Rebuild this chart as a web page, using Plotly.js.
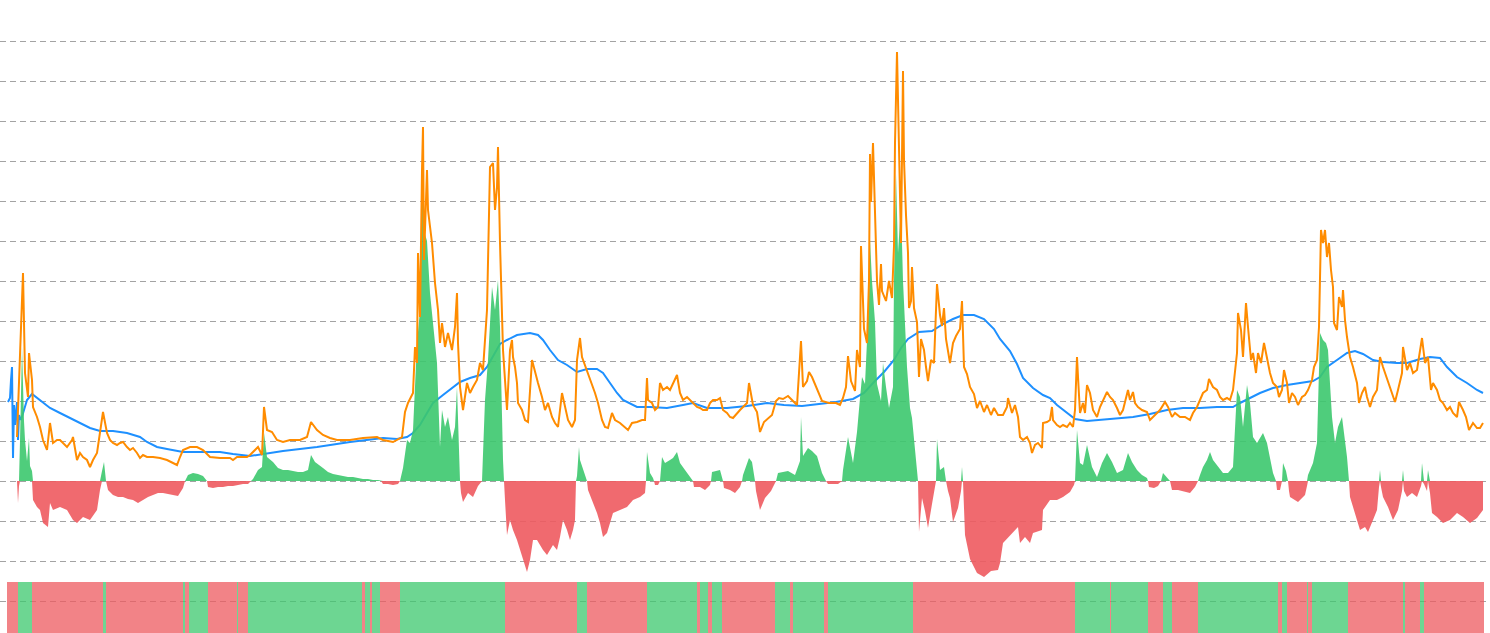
<!DOCTYPE html>
<html><head><meta charset="utf-8">
<script src="https://cdn.plot.ly/plotly-3.0.1.min.js"></script>
<style>html,body{margin:0;padding:0;background:#fff;overflow:hidden}#chart{width:1490px;height:633px}</style>
</head><body><div id="chart"></div>
<script>
// price (orange): [day, value]
const priceObs = [[9,44],[15,208],[17,108],[20,84],[21,128],[24,101],[25,74],[29,64],[32,54],[35,41],[39,31],[42,58],[45,38],[49,41],[52,41],[55,38],[59,34],[64,41],[65,44],[69,21],[72,28],[75,24],[79,21],[82,14],[85,21],[89,28],[92,48],[95,69],[99,48],[102,41],[105,38],[109,36],[112,38],[115,39],[119,34],[122,31],[125,33],[129,28],[132,23],[135,26],[139,24],[145,24],[152,23],[159,21],[165,18],[169,16],[172,24],[175,31],[182,34],[189,34],[195,31],[202,24],[212,23],[222,23],[225,21],[229,24],[239,24],
[242,26],[250,34],[254,26],[256,74],[259,51],[264,49],[269,41],[275,39],[282,41],[292,41],[299,44],[303,59],[309,51],[315,46],[322,43],[329,41],[342,41],[355,43],[369,44],[375,41],[385,39],[394,44],[397,69],[400,78],[405,88],[407,134],[409,118],[410,228],[412,164],[414,311],[415,354],[416,221],[419,311],[420,271],[424,238],[427,198],[430,171],[432,138],[434,158],[437,134],[440,148],[444,131],[447,154],[449,188],[450,138],[452,94],[455,71],[459,98],[462,88],[465,94],[469,101],[472,118],[475,111],[479,171],[480,221],[482,314],[485,318],[487,271],[489,294],[490,334],[492,238],
[494,164],[495,131],[499,71],[502,131],[504,141],[505,124],[507,114],[509,98],[510,78],[514,71],[517,61],[520,59],[524,121],[527,108],[530,98],[534,84],[537,71],[540,78],[544,64],[547,58],[550,54],[554,88],[557,74],[560,61],[564,54],[567,61],[569,121],[572,143],[574,124],[577,116],[580,108],[584,98],[587,88],[590,78],[594,61],[597,54],[600,53],[604,68],[607,61],[612,58],[617,54],[620,51],[624,58],[629,59],[634,61],[637,61],[639,103],[640,81],[644,78],[647,71],[650,74],[652,98],[655,91],[659,94],[662,91],[665,98],[669,106],[672,88],[675,81],[679,84],[682,81],[685,78],[689,74],[692,73],[695,71],[699,71],[702,78],[705,81],[709,81],[712,83],[715,71],[719,68],[722,64],[725,63],[729,68],[732,71],[735,74],[739,78],[741,98],
[745,76],[749,69],[752,49],[756,59],[761,63],[764,66],[768,80],[771,83],[775,82],[780,85],[785,80],[789,76],[793,140],[795,94],[799,100],[801,109],[804,104],[807,97],[811,87],[814,80],[821,78],[828,78],[832,76],[835,83],[838,94],[840,125],[843,100],[847,90],[849,131],[852,114],[853,235],[856,152],[859,138],[861,200],[862,327],[863,279],[865,338],[867,269],[869,200],[871,176],[873,217],[874,190],[878,180],[881,200],[884,183],[886,235],[887,338],[889,429],[891,338],[893,238],[895,410],[896,321],[898,266],[900,228],[901,173],[903,180],[904,214],[906,173],[909,159],[911,104],[913,142],[916,131],[918,114],[920,100],[923,121],[926,118],[929,197],[932,166],[934,155],[936,173],[938,142],[942,118],[945,138],[948,145],[952,152],[954,180],[956,114],[959,107],[962,94],[966,87],[969,73],[972,80],[976,69],[979,76],[983,66],[986,73],[990,66],[995,66],
[999,74],[1000,83],[1004,68],[1007,76],[1010,64],[1012,44],[1015,41],[1019,44],[1022,38],[1024,28],[1027,36],[1030,38],[1034,33],[1035,58],[1039,59],[1042,61],[1044,74],[1045,61],[1049,56],[1052,54],[1055,56],[1059,54],[1062,58],[1065,54],[1067,71],[1069,124],[1070,104],[1072,68],[1075,78],[1077,68],[1079,96],[1082,88],[1085,71],[1089,64],[1092,74],[1095,81],[1099,89],[1102,84],[1105,81],[1109,73],[1112,66],[1115,71],[1120,91],[1122,81],[1125,89],[1127,78],[1130,74],[1134,71],[1139,69],[1142,61],[1145,64],[1149,68],[1152,71],[1157,79],[1160,74],[1164,64],[1167,68],[1172,64],[1177,64],[1182,61],[1185,68],[1189,74],[1192,81],[1195,88],[1199,91],[1201,102],[1205,94],[1209,91],[1212,84],[1215,81],[1219,83],[1222,81],[1225,91],[1229,128],[1230,168],[1233,151],[1235,124],[1238,178],[1240,154],
[1243,121],[1245,128],[1248,108],[1250,128],[1253,118],[1256,138],[1259,124],[1262,108],[1265,98],[1269,94],[1271,84],[1274,91],[1276,111],[1279,98],[1281,78],[1284,88],[1287,84],[1290,76],[1294,84],[1297,86],[1300,91],[1304,101],[1306,114],[1309,121],[1311,154],[1313,251],[1315,238],[1317,251],[1319,224],[1321,238],[1323,211],[1325,194],[1326,158],[1329,151],[1331,184],[1334,174],[1335,191],[1337,161],[1339,144],[1342,124],[1345,114],[1349,98],[1351,78],[1354,88],[1357,94],[1359,84],[1362,74],[1365,84],[1369,91],[1372,124],[1375,114],[1377,108],[1380,98],[1384,88],[1387,79],[1390,91],[1394,108],[1395,134],[1399,111],[1402,118],[1405,108],[1409,111],[1414,143],[1417,118],[1420,124],[1423,91],[1425,98],[1429,91],[1432,81],[1435,78],[1439,71],[1442,74],[1445,68],[1449,64],[1451,79],[1455,71],[1458,64],[1461,51],[1465,58],[1469,53],[1472,53],[1475,58]];

// deviation from the moving average (green above / red below): [day, value]
const devObs = [[9,0],[10,-22],[11,-5],[12,40],[14,134],[16,60],[17,41],[19,20],[21,43],[22,15],[24,10],[25,-19],[29,-26],[32,-29],[35,-42],[40,-46],[42,-22],[45,-29],[52,-26],[59,-29],[65,-39],[69,-42],[75,-36],[82,-39],[89,-29],[92,-9],[94,10],[96,19],[98,0],[100,-9],[105,-14],[110,-16],[115,-16],[120,-18],[125,-19],[130,-22],[135,-19],[140,-16],[145,-14],[150,-12],[155,-12],[160,-13],[165,-14],[170,-15],[175,-7],[177,0],[180,6],[185,8],[190,7],[195,5],[199,0],[200,-6],[205,-7],[210,-6],[215,-6],[220,-5],[225,-5],[230,-4],[235,-3],[240,-3],[243,0],[245,2],[250,11],[254,14],[256,48],[259,24],[265,19],[270,13],[275,11],[280,11],[285,10],[290,9],[295,9],[300,11],[303,26],[307,19],[315,13],[320,9],[325,7],[330,6],[335,5],[340,4],[345,4],[350,3],[355,2],[360,2],[365,1],[370,1],[373,0],[375,-3],[380,-3],[385,-4],[390,-3],[392,0],
[395,13],[399,41],[402,38],[405,51],[409,138],[412,171],[414,300],[416,250],[419,240],[422,188],[425,158],[429,118],[432,34],[434,71],[437,54],[440,64],[444,41],[447,54],[449,94],[451,30],[452,0],[453,-12],[455,-21],[460,-12],[465,-16],[470,-5],[474,0],[477,81],[480,121],[484,194],[487,171],[490,201],[492,154],[495,21],[496,0],[497,-19],[499,-54],[502,-39],[505,-49],[509,-59],[512,-69],[517,-84],[519,-91],[522,-79],[525,-59],[529,-59],[532,-64],[535,-69],[539,-74],[542,-69],[545,-64],[549,-69],[552,-56],[555,-39],[559,-49],[562,-59],[565,-49],[567,-39],[568,0],[569,5],[571,34],[572,21],[577,6],[579,0],[580,-9],[585,-22],[589,-32],[592,-42],[595,-56],[599,-52],[602,-42],[605,-32],[612,-29],[619,-26],[625,-19],[632,-16],[637,-12],[638,0],[639,29],[642,8],[645,3],[646,0],[647,-4],[650,-4],[652,0],[654,24],[657,18],[662,21],[665,23],[669,29],[672,18],[677,11],[682,4],[685,0],[686,-6],[692,-6],[697,-9],[702,-4],[703,0],[704,9],[712,11],[715,0],[716,-7],[722,-9],[727,-12],[732,-6],[734,0],[735,6],[741,23],[744,19],[747,0],[748,-10],[752,-29],[757,-17],[763,-10],[767,-2],[768,0],
[770,8],[780,10],[787,6],[792,20],[793,64],[795,25],[800,33],[804,30],[809,25],[814,8],[818,0],[820,-3],[830,-3],[834,0],[835,11],[840,44],[845,18],[849,49],[852,83],[854,104],[857,97],[861,183],[862,241],[864,200],[867,159],[869,97],[873,80],[875,118],[878,94],[881,73],[885,94],[886,200],[888,307],[890,228],[893,276],[895,200],[899,114],[902,73],[904,63],[907,28],[909,6],[910,0],[911,-51],[914,-17],[917,-30],[920,-47],[924,-23],[927,-5],[928,0],[929,42],[932,11],[936,14],[938,0],[940,-10],[942,-17],[945,-41],[950,-27],[953,-10],[954,14],[955,0],[956,-30],[957,-54],[962,-78],[969,-92],[976,-96],[983,-90],[990,-89],[992,-82],[995,-62],[998,-59],[1005,-52],[1010,-46],[1012,-62],[1017,-56],[1022,-62],[1025,-52],[1034,-49],[1035,-29],[1042,-19],[1049,-19],[1055,-16],[1062,-11],[1066,-4],[1067,0],
[1069,51],[1072,18],[1075,16],[1079,36],[1084,14],[1089,4],[1094,18],[1099,28],[1104,19],[1109,8],[1115,11],[1120,28],[1124,19],[1129,11],[1134,6],[1139,3],[1140,0],[1141,-6],[1146,-7],[1150,-5],[1153,0],[1155,8],[1160,3],[1162,0],[1164,-9],[1170,-9],[1182,-12],[1187,-6],[1190,0],[1192,6],[1195,14],[1199,21],[1202,29],[1205,21],[1210,14],[1215,8],[1220,8],[1225,14],[1229,91],[1232,84],[1235,54],[1239,96],[1242,78],[1245,44],[1249,38],[1255,48],[1259,38],[1262,24],[1265,8],[1268,0],[1269,-9],[1272,-9],[1274,0],[1275,18],[1278,10],[1280,0],[1281,-10],[1282,-16],[1290,-21],[1297,-14],[1299,-5],[1300,6],[1305,18],[1309,38],[1312,148],[1315,141],[1318,138],[1320,131],[1324,64],[1327,38],[1330,54],[1334,64],[1337,38],[1339,24],[1341,0],[1342,-16],[1347,-32],[1352,-49],[1357,-46],[1360,-51],[1365,-39],[1369,-29],[1371,-6],[1372,11],[1373,-6],[1375,-16],[1380,-26],[1385,-39],[1390,-29],[1394,-10],[1395,11],[1396,-10],[1399,-16],[1404,-12],[1409,-16],[1413,-5],[1414,18],[1416,-3],[1419,-10],[1420,11],[1422,-12],[1424,-32],[1429,-36],[1435,-42],[1442,-39],[1449,-32],[1455,-36],[1462,-42],[1469,-37],[1475,-29]];

// moving average (blue): day and value
const maT = [0,2,3,4,5,6,7,9,10,11,13,16,19,24,32,42,52,62,72,82,92,105,119,132,139,149,159,175,192,212,225,242,275,309,342,375,389,399,405,412,419,425,435,445,452,462,472,479,485,492,499,509,522,530,535,542,550,559,569,579,589,595,602,609,615,629,642,659,675,685,699,719,739,759,776,794,811,828,845,856,866,876,886,893,900,911,924,935,945,955,966,976,986,992,1002,1009,1015,1025,1035,1042,1049,1059,1067,1079,1092,1109,1125,1142,1159,1175,1192,1209,1225,1232,1242,1252,1265,1279,1292,1305,1312,1319,1329,1339,1347,1355,1365,1375,1389,1399,1412,1422,1432,1439,1449,1459,1469,1475];
const maV = [79,83,101,114,23,76,56,79,41,66,61,71,81,87,81,73,68,63,58,53,50,50,48,44,39,34,32,29,29,29,27,25,30,34,39,43,42,44,48,56,68,78,86,94,99,103,106,114,124,137,141,146,148,146,141,131,121,116,109,112,112,108,98,88,81,74,74,73,76,78,73,73,75,78,76,75,77,79,82,88,99,109,121,133,142,149,150,157,162,166,166,162,152,142,130,117,103,93,86,83,76,68,62,60,61,63,64,67,71,73,73,74,74,78,83,88,93,96,98,100,104,114,121,128,130,127,121,119,118,118,122,124,123,114,104,98,91,88];

// regime strip: day boundaries and state (1 = above, 0 = below)
const stripEdges = [-1,10,24,95,98,175,177,181,200,229,230,240,354,357,362,364,372,392,497,569,579,639,689,692,700,704,714,767,782,785,816,820,905,1067,1102,1103,1140,1155,1164,1190,1270,1274,1279,1299,1300,1304,1340,1395,1397,1412,1416,1476];
const stripState = [0,1,0,1,0,1,0,1,0,1,0,1,0,1,0,1,0,1,0,1,0,1,0,1,0,1,0,1,0,1,0,1,0,1,0,1,0,1,0,1,0,1,0,1,0,1,0,1,0,1,0];

const GREEN = 'rgba(60,200,110,0.9)', RED = 'rgba(238,90,95,0.9)';
const GREEN_S = 'rgba(60,200,110,0.75)', RED_S = 'rgba(238,90,95,0.75)';

const devDays = devObs.map(p => p[0]);
const devUp = devObs.map(p => Math.max(p[1], 0));
const devDown = devObs.map(p => Math.min(p[1], 0));

const sMid = [], sW = [], sY = [], sC = [];
for (let k = 0; k < stripState.length; k++) {
  sMid.push((stripEdges[k] + stripEdges[k + 1]) / 2);
  sW.push(stripEdges[k + 1] - stripEdges[k]);
  sY.push(-70);
  sC.push(stripState[k] ? GREEN_S : RED_S);
}

const traces = [
  {type: 'scatter', mode: 'lines', x: maT, y: maV, yaxis: 'y',
   line: {color: '#1E90FF', width: 2}, hoverinfo: 'skip'},
  {type: 'bar', x: sMid, y: sY, base: -101, width: sW, yaxis: 'y2',
   marker: {color: sC, line: {width: 0}}, hoverinfo: 'skip'},
  {type: 'scatter', mode: 'lines', x: devDays, y: devUp, yaxis: 'y2', fill: 'tozeroy',
   fillcolor: GREEN, line: {width: 0, color: GREEN}, hoverinfo: 'skip'},
  {type: 'scatter', mode: 'lines', x: devDays, y: devDown, yaxis: 'y2', fill: 'tozeroy',
   fillcolor: RED, line: {width: 0, color: RED}, hoverinfo: 'skip'},
  {type: 'scatter', mode: 'lines', x: priceObs.map(p => p[0]), y: priceObs.map(p => p[1]), yaxis: 'y2',
   line: {color: '#FF8C00', width: 2}, hoverinfo: 'skip'}
];

const yr = [-152, 479];
const layout = {
  width: 1490, height: 633,
  margin: {l: 0, r: 0, t: 2, b: 0, pad: 0},
  paper_bgcolor: '#fff', plot_bgcolor: '#fff',
  showlegend: false, barmode: 'overlay', bargap: 0,
  xaxis: {range: [-8, 1482], visible: false, showgrid: false, zeroline: false, fixedrange: true},
  yaxis: {range: yr, tick0: 0, dtick: 40, showgrid: true, gridcolor: '#a3a3a3', gridwidth: 1,
          griddash: '6px,4px', zeroline: false, showticklabels: false, ticks: '', showline: false},
  yaxis2: {range: yr, overlaying: 'y', visible: false, showgrid: false, zeroline: false}
};
Plotly.newPlot('chart', traces, layout, {staticPlot: true, displayModeBar: false});
</script></body></html>
